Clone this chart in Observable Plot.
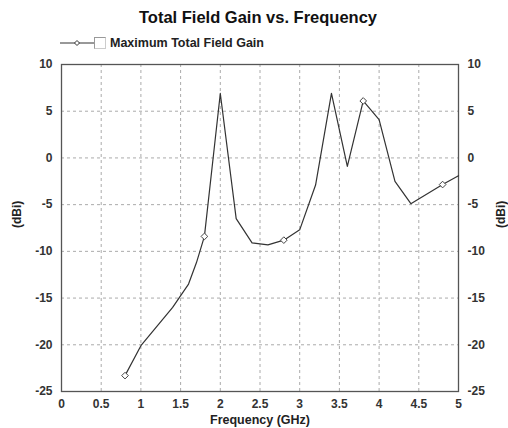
<!DOCTYPE html>
<html>
<head>
<meta charset="utf-8">
<script src="https://cdn.jsdelivr.net/npm/d3@7"></script>
<script src="https://cdn.jsdelivr.net/npm/@observablehq/plot@0.6"></script>
<style>
  html, body { margin: 0; padding: 0; background: #fff; }
  body { width: 508px; height: 428px; position: relative; overflow: hidden; font-family: "Liberation Sans", Arial, sans-serif; }
  #title { position: absolute; left: 0; width: 516px; top: 8px; text-align: center; font-size: 16.5px; font-weight: bold; color: #111; }
  #legend { position: absolute; left: 60px; top: 36px; display: flex; align-items: center; font-size: 12.5px; font-weight: bold; color: #222; }
  #legend .box { width: 10px; height: 10px; border: 1px solid #999; border-right-color:#ccc; border-bottom-color:#ccc; margin: 0 4px 0 0; }
  #chart { position: absolute; left: 0; top: 50px; }
</style>
</head>
<body>
<div id="title">Total Field Gain vs. Frequency</div>
<div id="legend">
  <svg width="34" height="10"><line x1="0" y1="5" x2="34" y2="5" stroke="#333" stroke-width="1"/><path d="M17,2.5L19.5,5L17,7.5L14.5,5Z" fill="#fff" stroke="#333"/></svg>
  <div class="box"></div>
  <span>Maximum Total Field Gain</span>
</div>
<div id="chart"></div>
<script>
const seriesName = "Maximum Total Field Gain";
const freq = [0.8, 1.0, 1.4, 1.6, 1.7, 1.8, 2.0, 2.2, 2.4, 2.6, 2.8, 3.0, 3.2, 3.4, 3.6, 3.8, 4.0, 4.2, 4.4, 4.8, 5.0];
const gain = [-23.3, -20.1, -16.0, -13.5, -11.2, -8.4, 6.9, -6.5, -9.1, -9.3, -8.8, -7.7, -2.9, 6.9, -0.9, 6.1, 4.1, -2.5, -4.9, -2.85, -1.9];
const markerFreq = [0.8, 1.8, 2.8, 3.8, 4.8];
const xTicks = [0, 0.5, 1, 1.5, 2, 2.5, 3, 3.5, 4, 4.5, 5];
const yTicks = [-25, -20, -15, -10, -5, 0, 5, 10];
const xLabel = "Frequency (GHz)";
const yLabel = "(dBi)";

const data = freq.map((f, i) => ({f, g: gain[i]}));
const markers = data.filter(d => markerFreq.includes(d.f));

const chart = Plot.plot({
  width: 508,
  height: 378,
  marginTop: 14,
  marginBottom: 37,
  marginLeft: 61,
  marginRight: 50,
  style: { fontFamily: "'Liberation Sans', Arial, sans-serif", fontSize: "12px", fontWeight: "bold", color: "#222", background: "transparent" },
  x: { domain: [0, 5] },
  y: { domain: [-25, 10] },
  marks: [
    Plot.gridX(xTicks.slice(1, -1), { stroke: "#aaa", strokeOpacity: 1, strokeDasharray: "3,3" }),
    Plot.gridY(yTicks.slice(1, -1), { stroke: "#aaa", strokeOpacity: 1, strokeDasharray: "3,3" }),
    Plot.frame({ stroke: "#555", strokeWidth: 1.3 }),
    Plot.axisX({ ticks: xTicks, tickSize: 0, tickPadding: 8, tickFormat: d => String(d), label: null, fill: "#333" }),
    Plot.axisY({ anchor: "left", ticks: yTicks, tickSize: 0, tickPadding: 9, tickFormat: d => String(d), label: null, fill: "#333" }),
    Plot.axisY({ anchor: "right", ticks: yTicks, tickSize: 0, tickPadding: 9, tickFormat: d => String(d), label: null, fill: "#333" }),
    Plot.text([xLabel], { frameAnchor: "bottom", lineAnchor: "middle", dy: 28, fontWeight: "bold", fontSize: 12.5, fill: "#222" }),
    Plot.text([yLabel], { frameAnchor: "left", textAnchor: "start", dx: -44, rotate: -90, fontWeight: "bold", fill: "#222" }),
    Plot.text([yLabel], { frameAnchor: "right", textAnchor: "start", dx: 43, rotate: -90, fontWeight: "bold", fill: "#222" }),
    Plot.line(data, { x: "f", y: "g", stroke: "#333", strokeWidth: 1.2 }),
    Plot.dot(markers, { x: "f", y: "g", symbol: "diamond2", r: 3, fill: "#fff", stroke: "#444", strokeWidth: 1 })
  ]
});
document.getElementById("chart").appendChild(chart);
</script>
</body>
</html>
